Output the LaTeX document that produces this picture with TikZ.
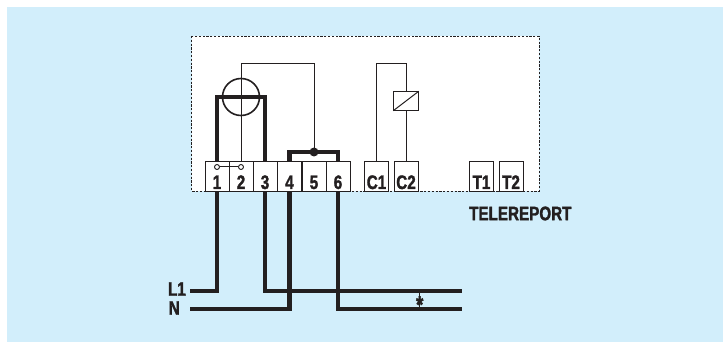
\documentclass[tikz,border=0pt]{standalone}
\usepackage{fontspec}
\setmainfont{Liberation Sans}[BoldFeatures={FakeStretch=0.78,FakeBold=1.6}]
\definecolor{cpanel}{RGB}{210,238,251}
\definecolor{cwire}{RGB}{35,31,32}
\tikzset{
  terminal/.style={draw=cwire,fill=white,line width=0.9pt,inner sep=0pt,minimum width=24pt,
    minimum height=30pt,text height=28pt,text depth=2pt,font=\fontsize{19.5}{19.5}\selectfont\bfseries,text=cwire},
  thinwire/.style={draw=cwire,line width=1pt},
  thickwire/.style={draw=cwire,line width=4.4pt,line cap=butt,line join=miter},
  tag/.style={inner sep=0pt,font=\fontsize{19.5}{19.5}\selectfont\bfseries,text=cwire}
}
\begin{document}
\begin{tikzpicture}[y=1pt,x=1pt,yscale=-1]
  \useasboundingbox (0,0) rectangle (723,342);
  \path[fill=cpanel] (7,7) rectangle (723,342);
  \path[fill=white,draw=cwire,line width=0.9pt,dash pattern=on 2.2pt off 1.6pt] (191.5,36) rectangle (539,191);

  % terminals
  \foreach \tname/\tx/\tlabel in {t1/217/1,t2/241/2,t3/265/3,t4/289.5/4,t5/314/5,t6/338/6,
      tc1/376.5/C1,tc2/406/C2,tt1/481.5/T1,tt2/511/T2}
    \node[terminal] (\tname) at (\tx,176) {\tlabel};

  % meter
  \node[draw=cwire,fill=white,line width=1.6pt,circle,minimum size=37pt,inner sep=0pt] (meter) at (241,97) {};
  \coordinate (bar1) at (217,97);
  \coordinate (bar3) at (265,97);
  \coordinate (top2) at (241,64);
  \coordinate (top5) at (314,64);
  \coordinate (dot5) at (314,152);
  \draw[thickwire] (t1.north) -- (bar1) -- (bar3) -- (t3.north);
  \draw[thinwire] (t2.north) -- (top2) -- (top5) -- (dot5);
  \draw[thickwire] (t4.north) -- (t4.north |- dot5) -- (t6.north |- dot5) -- (t6.north);
  \node[fill=cwire,circle,minimum size=9pt,inner sep=0pt] (dot) at (dot5) {};

  % bridge between 1 and 2
  \node[draw=cwire,fill=white,line width=0.9pt,circle,minimum size=5pt,inner sep=0pt] (sw1) at (217,167) {};
  \node[draw=cwire,fill=white,line width=0.9pt,circle,minimum size=5pt,inner sep=0pt] (sw2) at (241,167) {};
  \draw[thinwire] (sw1) -- (sw2);

  % relay
  \node[draw=cwire,fill=white,line width=1pt,minimum width=24.5pt,minimum height=18.5pt,inner sep=0pt] (relay) at (406,101) {};
  \coordinate (topc1) at (376.5,64);
  \coordinate (topc2) at (406,64);
  \draw[thinwire] (tc1.north) -- (topc1) -- (topc2) -- (relay.north);
  \draw[thinwire] (relay.south) -- (tc2.north);
  \draw[thinwire] (relay.south west) -- (relay.north east);

  % mains
  \node[tag,anchor=east] (l1) at (186,289) {L1};
  \node[tag,anchor=east] (n) at (180,308) {N};
  \node[tag,anchor=west] (tele) at (469,213.5) {TELEREPORT};
  \coordinate (l1a) at (190,291);
  \coordinate (na) at (190,309);
  \coordinate (out3) at (462,291);
  \coordinate (out6) at (462,309);
  \draw[thickwire] (t1.south) -- (t1.south |- l1a) -- (l1a);
  \draw[thickwire] (t4.south) -- (t4.south |- na) -- (na);
  \draw[thickwire] (t3.south) -- (t3.south |- out3) -- (out3);
  \draw[thickwire] (t6.south) -- (t6.south |- out6) -- (out6);
  \coordinate (ticka) at (419.7,291);
  \coordinate (tickb) at (419.7,309);
  \draw[thinwire] (ticka) -- (tickb);
  \node[inner sep=0pt,font=\fontsize{24}{24}\selectfont\bfseries,text=cwire] (star) at (419.7,304.5) {*};
\end{tikzpicture}
\end{document}
